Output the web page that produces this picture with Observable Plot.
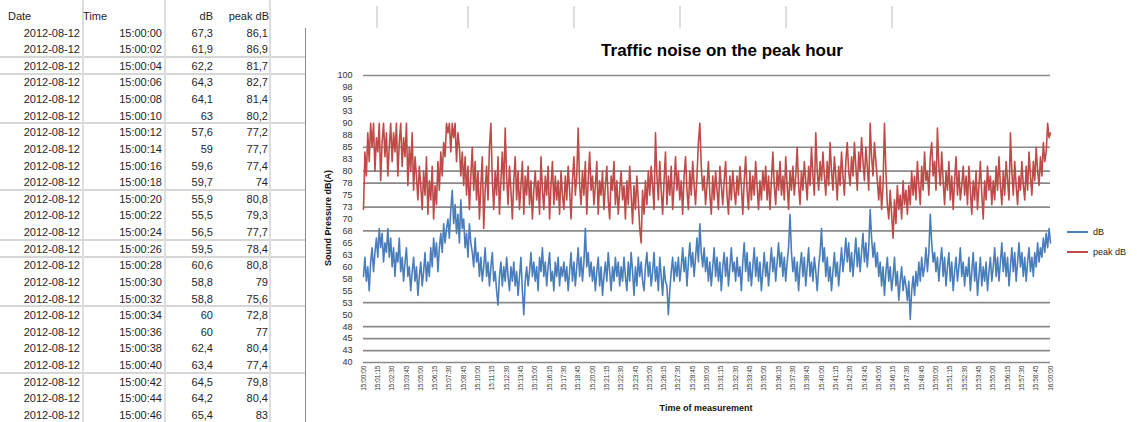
<!DOCTYPE html>
<html><head><meta charset="utf-8">
<script src="https://cdn.jsdelivr.net/npm/d3@7"></script>
<script src="https://cdn.jsdelivr.net/npm/@observablehq/plot@0.6"></script>
<style>
body{margin:0;background:#fff;font-family:"Liberation Sans",Arial,sans-serif;}
#wrap{position:relative;width:1137px;height:422px;overflow:hidden;background:#fff;}
.abs{position:absolute;white-space:nowrap;line-height:1;}
</style></head><body><div id="wrap"></div>
<script>
// ---------- spreadsheet table data ----------
const tableHeaders = ["Date", "Time", "dB", "peak dB"];
const tableDates = ["2012-08-12","2012-08-12","2012-08-12","2012-08-12","2012-08-12","2012-08-12","2012-08-12","2012-08-12","2012-08-12","2012-08-12","2012-08-12","2012-08-12","2012-08-12","2012-08-12","2012-08-12","2012-08-12","2012-08-12","2012-08-12","2012-08-12","2012-08-12","2012-08-12","2012-08-12","2012-08-12","2012-08-12"];
const tableTimes = ["15:00:00","15:00:02","15:00:04","15:00:06","15:00:08","15:00:10","15:00:12","15:00:14","15:00:16","15:00:18","15:00:20","15:00:22","15:00:24","15:00:26","15:00:28","15:00:30","15:00:32","15:00:34","15:00:36","15:00:38","15:00:40","15:00:42","15:00:44","15:00:46"];
const tableDb = [67.3, 61.9, 62.2, 64.3, 64.1, 63.0, 57.6, 59, 59.6, 59.7, 55.9, 55.5, 56.5, 59.5, 60.6, 58.8, 58.8, 60, 60, 62.4, 63.4, 64.5, 64.2, 65.4];
const tablePeak = [86.1, 86.9, 81.7, 82.7, 81.4, 80.2, 77.2, 77.7, 77.4, 74.0, 80.8, 79.3, 77.7, 78.4, 80.8, 79.0, 75.6, 72.8, 77.0, 80.4, 77.4, 79.8, 80.4, 83];

// ---------- chart data ----------
const chartTitle = "Traffic noise on the peak hour";
const yTitle = "Sound Pressure dB(A)";
const xTitle = "Time of measurement";
const seriesNames = ["dB", "peak dB"];
const dbValues = [
58,62,57,60,55,61,64,59,63,66,62,68,64,67,61,65,63,68,62,66,
60,64,58,63,61,66,59,62,57,61,64,58,60,55,59,62,57,60,54,58,
61,56,59,63,57,61,58,64,60,66,62,65,59,64,67,63,69,65,68,70,
66,72,76,69,73,67,71,65,74,68,70,64,67,62,69,65,63,60,66,61,
63,58,62,57,60,64,58,61,56,60,63,57,59,55,52,58,61,56,60,57,
62,58,55,60,57,61,56,59,54,58,62,55,50,57,60,56,59,63,58,61,
57,60,55,62,59,64,58,61,56,60,63,57,59,55,61,58,62,56,60,58,
61,57,60,55,59,63,57,61,56,60,64,58,62,57,61,68,60,63,58,61,
57,60,55,59,62,56,60,54,58,61,57,63,59,55,60,57,62,58,61,56,
60,57,62,58,55,61,57,63,59,54,60,56,62,58,61,57,55,60,63,58,
61,56,59,63,57,60,55,62,58,54,60,57,56,50,55,59,62,57,61,58,
62,57,60,64,59,62,56,61,65,60,63,58,62,66,61,69,63,60,64,59,
62,57,61,56,60,64,58,62,57,61,55,60,63,58,62,56,60,64,59,61,
57,62,58,60,55,61,65,59,63,57,61,56,60,64,58,62,57,61,55,59,
63,58,61,56,60,64,59,62,57,61,65,60,63,58,62,57,61,64,71,63,
59,62,57,61,55,60,63,58,62,56,60,64,58,61,57,62,59,55,60,63,
68,61,64,58,62,57,60,55,59,63,58,61,56,60,64,59,62,66,61,65,
59,63,58,62,66,60,64,59,63,67,61,65,60,64,72,66,62,65,60,63,
58,61,56,60,54,59,62,57,60,55,58,62,56,59,53,57,60,55,58,56,
53,57,49,55,58,54,59,56,61,57,62,58,60,64,59,63,71,65,61,63,
59,62,57,61,64,58,62,56,60,63,57,61,55,59,62,57,60,64,58,61,
56,60,58,62,55,59,63,57,61,54,58,62,56,60,57,61,55,59,62,57,
60,64,58,62,57,61,65,59,63,58,62,56,60,64,59,63,57,61,65,60,
63,58,62,57,61,64,59,62,58,63,60,65,61,64,62,66,63,67,64,68,
65];
const peakValues = [
72,84,79,88,82,90,85,90,80,87,84,90,78,86,90,83,88,79,85,90,
82,88,84,90,79,86,90,81,87,83,90,77,85,80,88,76,83,79,74,81,
77,72,80,75,83,71,78,74,81,70,77,73,82,76,84,79,86,83,90,88,
90,84,90,87,90,82,88,85,79,84,77,83,75,81,72,79,85,76,82,74,
80,70,77,83,68,76,81,74,85,90,78,72,80,75,83,71,78,84,76,89,
79,73,81,76,70,78,83,74,80,72,77,82,71,79,75,81,73,78,70,76,
80,74,78,71,83,76,72,79,75,81,70,77,82,73,79,74,78,71,80,75,
72,79,74,81,76,70,78,83,75,79,89,77,73,80,75,82,71,78,84,76,
79,73,77,82,71,78,75,80,72,77,81,74,70,79,76,82,73,78,71,76,
80,74,77,70,78,73,81,75,69,77,72,79,74,68,65,76,71,78,73,80,
75,81,77,72,88,79,74,82,76,71,78,84,73,79,75,81,72,77,83,76,
80,74,78,71,79,83,76,72,80,75,82,77,73,79,86,90,81,76,79,73,
77,82,75,71,79,74,80,76,72,81,77,73,78,82,75,71,79,74,80,76,
73,79,75,81,77,71,78,83,76,72,80,74,79,75,82,77,72,78,74,80,
76,81,74,79,72,78,84,77,73,80,76,82,75,79,74,83,77,72,80,76,
81,75,79,85,77,73,80,76,82,78,74,81,77,85,79,75,88,80,76,82,
78,84,79,75,82,77,86,80,76,83,79,74,81,77,84,79,75,82,86,80,
77,83,79,86,81,76,84,80,87,82,78,85,81,76,90,83,79,86,82,78,
74,79,72,77,90,80,73,70,76,71,66,74,69,77,72,75,70,78,73,76,
71,77,73,80,75,79,74,82,77,73,81,76,84,78,80,75,83,86,79,82,
76,89,81,77,84,78,73,80,76,82,74,79,72,78,83,75,80,74,77,81,
75,79,73,81,76,71,78,74,80,72,77,82,75,70,78,74,81,76,79,73,
78,74,81,76,83,77,73,80,75,82,78,74,88,80,75,82,77,73,79,76,
82,77,74,81,76,84,79,75,82,78,85,80,77,83,79,86,82,84,90,87,
88];
const xTickLabels = ["15:00:00","15:01:15","15:02:30","15:03:45","15:05:00","15:06:15","15:07:30","15:08:45","15:10:00","15:11:15","15:12:30","15:13:45","15:15:00","15:16:15","15:17:30","15:18:45","15:20:00","15:21:15","15:22:30","15:23:45","15:25:00","15:26:15","15:27:30","15:28:45","15:30:00","15:31:15","15:32:30","15:33:45","15:35:00","15:36:15","15:37:30","15:38:45","15:40:00","15:41:15","15:42:30","15:43:45","15:45:00","15:46:15","15:47:30","15:48:45","15:50:00","15:51:15","15:52:30","15:53:45","15:55:00","15:56:15","15:57:30","15:58:45","16:00:00"];
const yTickValues = [40,42.5,45,47.5,50,52.5,55,57.5,60,62.5,65,67.5,70,72.5,75,77.5,80,82.5,85,87.5,90,92.5,95,97.5,100];
const yTickLabels = ["40","43","45","48","50","53","55","58","60","63","65","68","70","73","75","78","80","83","85","88","90","93","95","98","100"];
// gridlines that survive in the reference picture
const gridValues = [100, 85, 80, 77.5, 72.5, 67.5, 52.5, 47.5, 45, 42.5, 40];

const colors = {"dB": "#4a7ebb", "peak dB": "#be4b48"};

// ---------- helpers ----------
const wrap = document.getElementById("wrap");
function txt(s, x, y, anchor, css) {
  const d = document.createElement("div");
  d.className = "abs";
  d.textContent = s;
  d.style.left = x + "px"; d.style.top = y + "px";
  const tx = anchor === "end" ? "-100%" : anchor === "middle" ? "-50%" : "0";
  d.style.transform = `translate(${tx},-50%)` + (css.rot ? ` rotate(${css.rot}deg)` : "");
  Object.assign(d.style, css.style || {});
  wrap.appendChild(d);
  return d;
}
function box(x, y, w, h, color) {
  const d = document.createElement("div");
  d.className = "abs";
  Object.assign(d.style, {left: x + "px", top: y + "px", width: w + "px", height: h + "px", background: color});
  wrap.appendChild(d);
}

// ---------- spreadsheet background ----------
const rowStep = 16.63, rowTop = 23.7;
[2,3,6,10,13,14,17,21].forEach(j => box(0, rowTop + j * rowStep - 1, 305, 2, "#d6d6d6"));
[82, 164, 269].forEach(x => box(x, 0, 1.5, 422, "#dedede"));
[376, 467, 573, 679, 785, 891].forEach(x => box(x, 6, 1.5, 22, "#dddddd"));
box(305, 28, 1.3, 394, "#8a8a8a");

const cellCss = {style: {fontSize: "11px", color: "#1e1e2a"}};
txt(tableHeaders[0], 8, 15.5, "start", cellCss);
txt(tableHeaders[1], 83, 15.5, "start", cellCss);
txt(tableHeaders[2], 213, 15.5, "end", cellCss);
txt(tableHeaders[3], 269, 15.5, "end", cellCss);
const fmt = v => String(v).replace(".", ",");
tableDates.forEach((d, r) => {
  const y = rowTop + rowStep * (r + 0.5) + 0.5;
  txt(d, 80, y, "end", cellCss);
  txt(tableTimes[r], 162, y, "end", cellCss);
  txt(fmt(tableDb[r]), 213, y, "end", cellCss);
  txt(fmt(tablePeak[r]), 268, y, "end", cellCss);
});

// ---------- chart ----------
txt(chartTitle, 722, 50, "middle", {style: {fontSize: "17px", fontWeight: "bold", color: "#000"}});
txt(xTitle, 706, 408, "middle", {style: {fontSize: "9px", fontWeight: "bold", color: "#111"}});
txt(yTitle, 328, 218, "middle", {rot: -90, style: {fontSize: "9px", fontWeight: "bold", color: "#111"}});

const step = (dbValues.length - 1) / (xTickLabels.length - 1);
const xTickIdx = xTickLabels.map((_, k) => k * step);
const chart = Plot.plot({
  width: 832, height: 362,
  marginLeft: 58, marginRight: 87, marginTop: 15, marginBottom: 60,
  style: {fontFamily: "Liberation Sans, Arial, sans-serif", background: "transparent", overflow: "visible"},
  x: {domain: [0, dbValues.length - 1], axis: null},
  y: {domain: [40, 100], axis: null},
  marks: [
    Plot.ruleY(gridValues, {stroke: "#8a8a8a", strokeWidth: 1.7}),
    Plot.axisY(yTickValues, {tickSize: 0, tickPadding: 11, fontSize: 9, fill: "#333",
      tickFormat: d => yTickLabels[yTickValues.indexOf(d)], label: null}),
    Plot.axisX(xTickIdx, {tickSize: 0, tickPadding: 3, tickRotate: -90, fontSize: 6.5, fill: "#333",
      tickFormat: d => xTickLabels[xTickIdx.indexOf(d)], label: null}),
    Plot.lineY(dbValues, {x: (d, i) => i, y: d => d, stroke: colors["dB"], strokeWidth: 1.6}),
    Plot.lineY(peakValues, {x: (d, i) => i, y: d => d, stroke: colors["peak dB"], strokeWidth: 1.6})
  ]
});
chart.style.position = "absolute";
chart.style.left = "305px";
chart.style.top = "60px";
wrap.appendChild(chart);

// legend
seriesNames.forEach((s, k) => {
  const y = 232 + k * 20;
  box(1067, y - 1, 21, 2, colors[s]);
  txt(s, 1093, y, "start", {style: {fontSize: "9px", color: "#222"}});
});
</script>
</body></html>
